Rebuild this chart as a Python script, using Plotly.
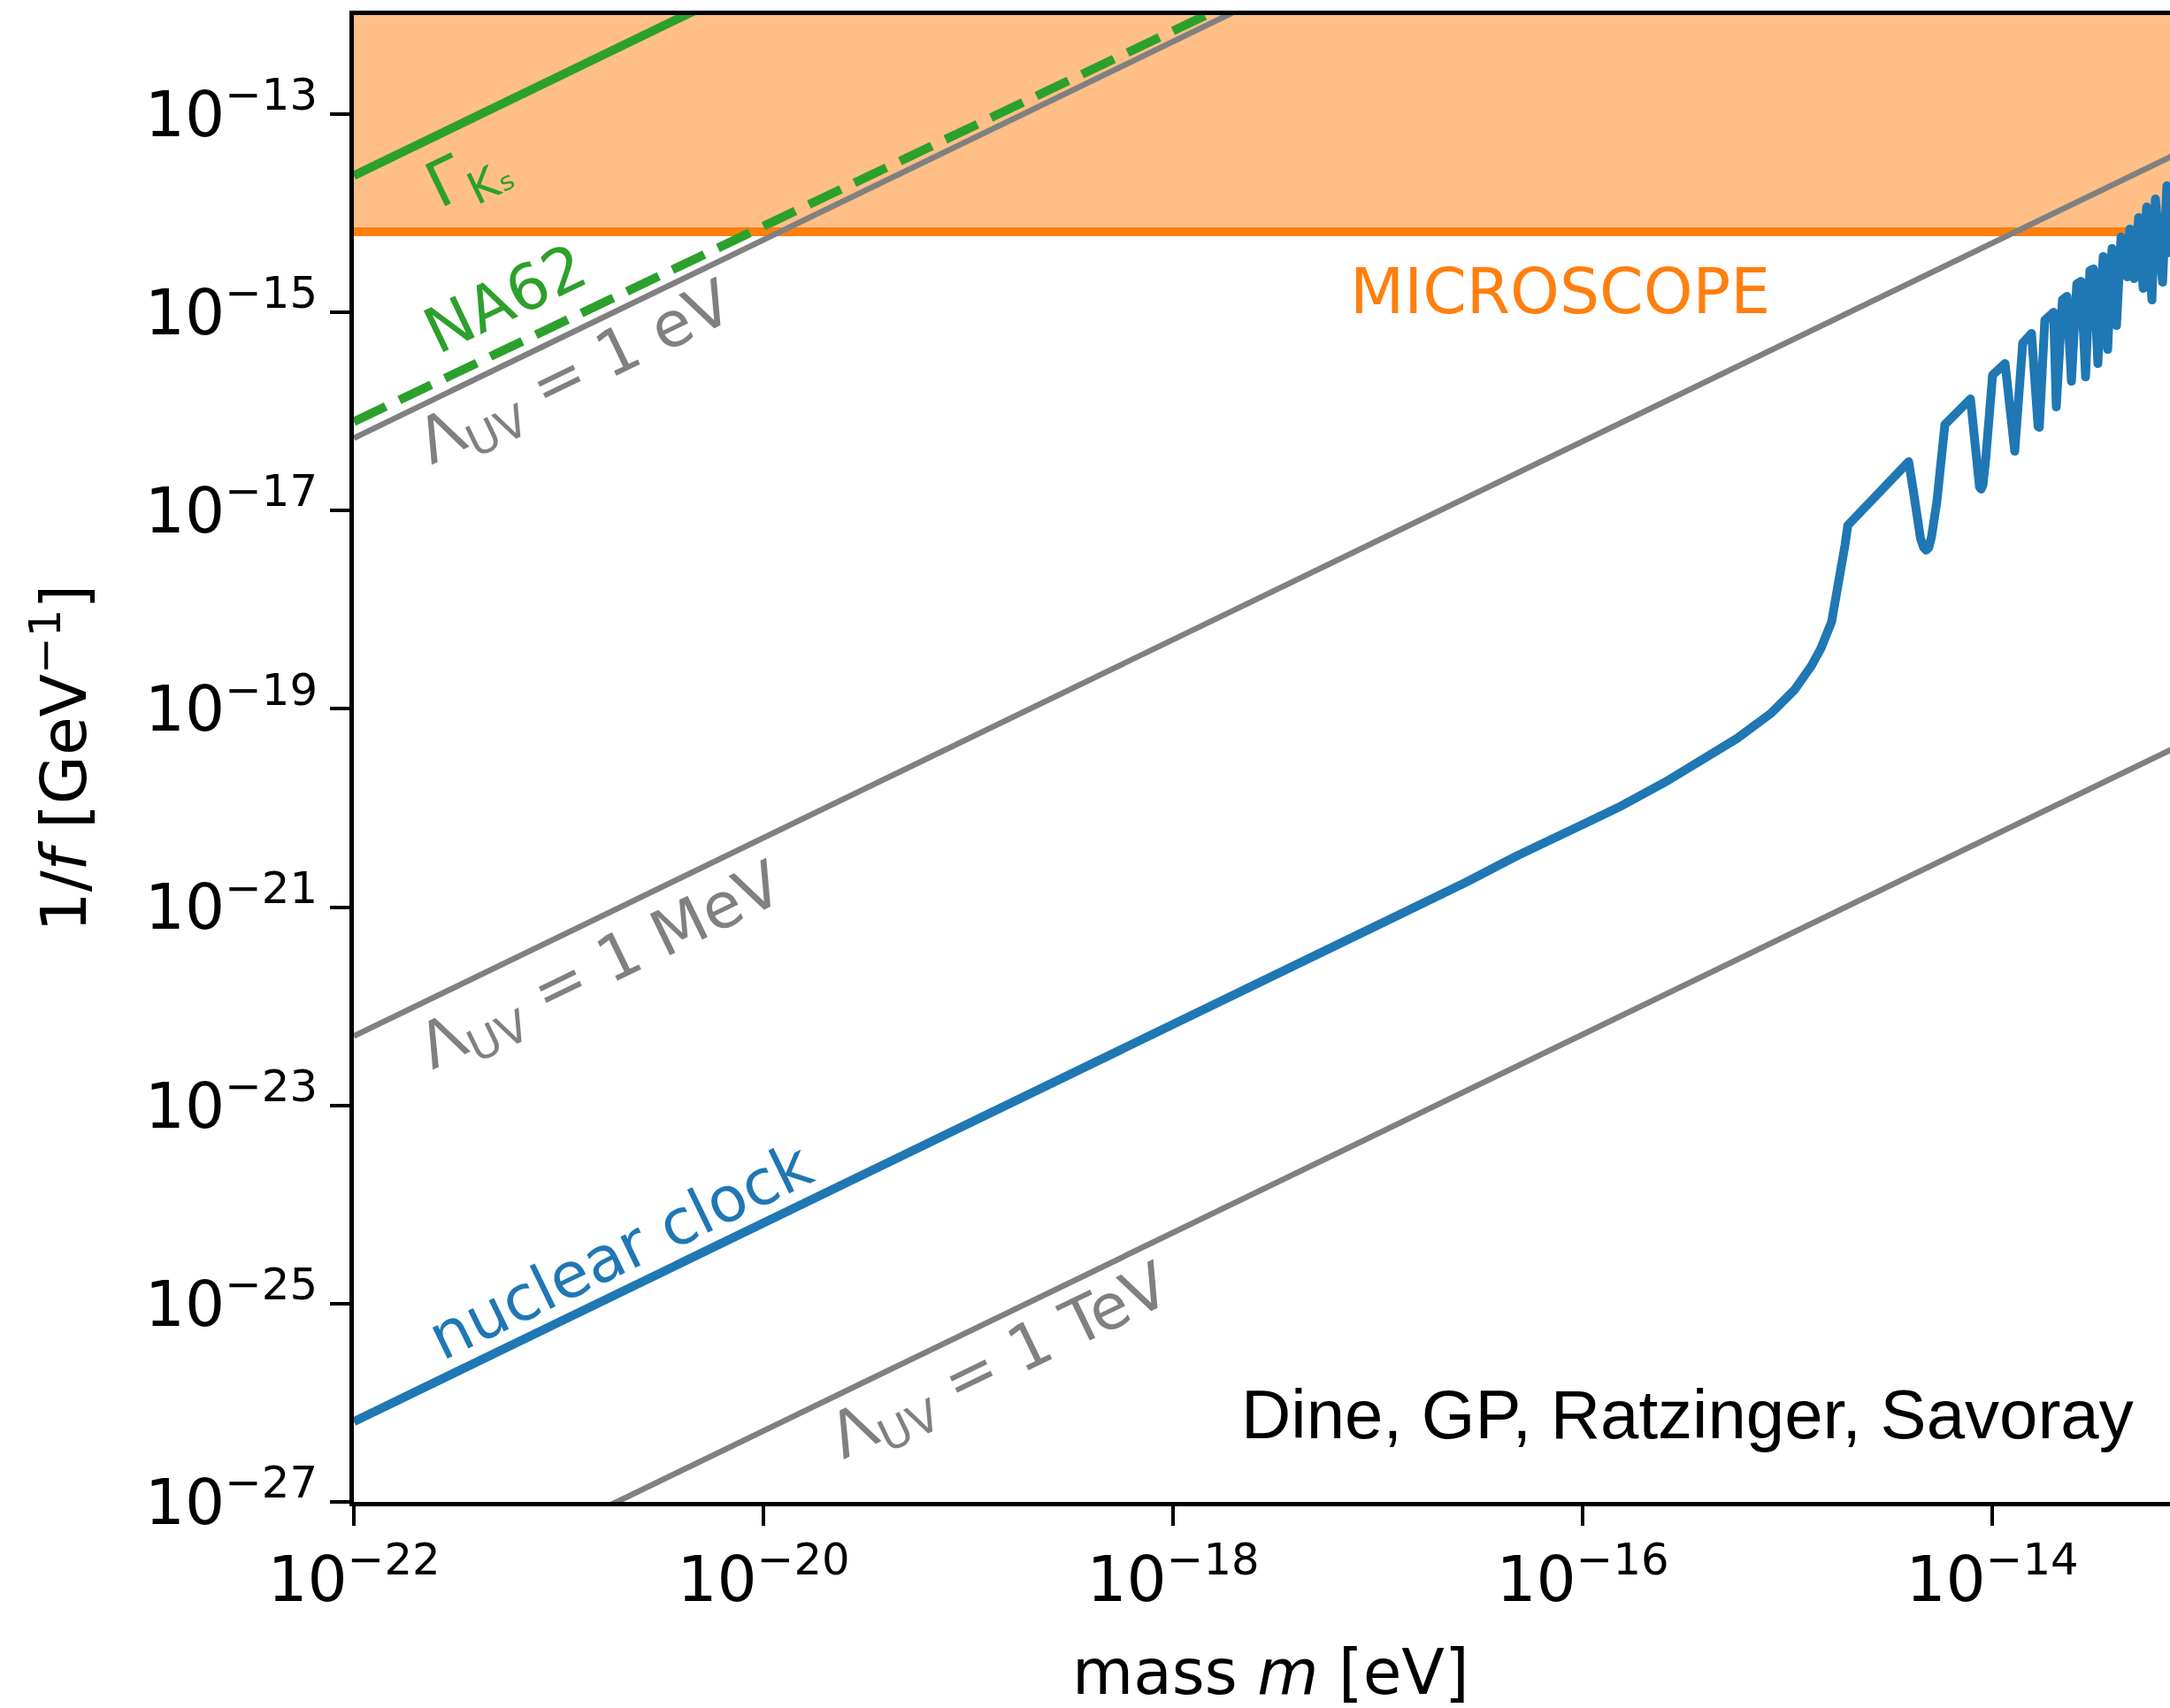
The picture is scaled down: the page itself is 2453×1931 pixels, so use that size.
import numpy as np
import plotly.graph_objects as go

# ---------------- data ----------------
x_tick_exp = [-22, -20, -18, -16, -14]
y_tick_exp = [-27, -25, -23, -21, -19, -17, -15, -13]

mass_ends = [1e-22, 1e-12]           # span of the straight reference lines
uv_1eV = [5.4e-17, 5.4e-7]          # Lambda_UV = 1 eV
uv_1MeV = [5.0e-23, 5.0e-13]        # Lambda_UV = 1 MeV
uv_1TeV = [5.2e-29, 5.2e-19]        # Lambda_UV = 1 TeV

gamma_ks_mass = [1e-22, 1e-19]
gamma_ks = [2.4e-14, 2.4e-11]

na62_mass = [1e-22, 1e-17]
na62 = [7.9e-17, 6.7e-12]

microscope_limit = 6.5e-15
microscope_top = 1e-11

clock_log_m = [
    -22.0, -17.5, -16.82, -16.572, -16.322, -16.076, -15.825, -15.579,
    -15.415, -15.246, -15.082, -14.965, -14.883, -14.836, -14.784, -14.754,
    -14.732, -14.719, -14.705,
    -14.408, -14.385, -14.365, -14.350, -14.335, -14.322, -14.309, -14.296,
    -14.270, -14.231, -14.106, -14.071, -14.062, -14.054, -14.045, -14.032,
    -13.998, -13.937, -13.898, -13.890, -13.851, -13.808, -13.776, -13.770,
    -13.743, -13.700, -13.687, -13.657, -13.635, -13.613, -13.587, -13.566,
    -13.544, -13.523, -13.505, -13.484, -13.458, -13.436, -13.415, -13.393,
    -13.371, -13.341, -13.328, -13.307, -13.285, -13.263, -13.246, -13.220,
    -13.203, -13.168, -13.147, -13.125,
]
clock_log_inv_f = [
    -26.19, -21.69, -21.01, -20.752, -20.484, -20.252, -19.994, -19.717,
    -19.521, -19.298, -19.048, -18.807, -18.566, -18.388, -18.12, -17.799,
    -17.496, -17.35, -17.148,
    -16.506, -16.80, -17.10, -17.28, -17.37, -17.398, -17.37, -17.26,
    -16.907, -16.131, -15.872, -16.66, -16.76, -16.782, -16.74, -16.488,
    -15.632, -15.516, -16.38, -16.40, -15.310, -15.212, -16.15, -16.16,
    -15.078, -14.998, -15.953, -14.873, -14.838, -15.694, -14.713, -14.686,
    -15.649, -14.579, -14.561, -15.516, -14.436, -15.373, -14.356, -15.132,
    -14.240, -14.641, -14.160, -14.659, -14.044, -14.757, -13.937, -14.873,
    -13.856, -14.695, -13.723, -14.44,
]

# label texts and their positions (log10 m, log10 1/f)
label_text = [
    "Λ<sub>UV</sub> = 1 eV", "NA62", "Γ<sub>Kₛ</sub>", "MICROSCOPE",
    "Λ<sub>UV</sub> = 1 MeV", "nuclear clock", "Λ<sub>UV</sub> = 1 TeV",
]
label_logm = [-20.91, -21.26, -21.44, -16.11, -20.79, -20.70, -18.84]
label_logy = [-15.64, -14.86, -13.62, -14.79, -21.62, -24.47, -25.61]
label_color = ["#808080", "#2ca02c", "#2ca02c", "#ff7f0e", "#808080", "#1f77b4", "#808080"]
label_angle = [-25.8, -25.5, -25.8, 0, -25.8, -25.8, -25.8]

author_text = "Dine, GP, Ratzinger, Savoray"
author_pos = (-15.49, -26.12)

# ---------------- figure ----------------
W, H = 2453, 1931
ML, MT, MB, MR = 400, 17, 233, 0
FONT = "DejaVu Sans"
FS = 71

fig = go.Figure()

# MICROSCOPE excluded region
fig.add_trace(go.Scatter(
    x=[mass_ends[0], mass_ends[1], mass_ends[1], mass_ends[0], mass_ends[0]],
    y=[microscope_limit, microscope_limit, microscope_top, microscope_top, microscope_limit],
    fill="toself", fillcolor="#ffbf86", mode="lines", line=dict(width=0),
    hoverinfo="skip", showlegend=False))
fig.add_trace(go.Scatter(
    x=mass_ends, y=[microscope_limit, microscope_limit], mode="lines",
    line=dict(color="#ff7f0e", width=10), showlegend=False))

# Lambda_UV lines
for yy in (uv_1eV, uv_1MeV, uv_1TeV):
    fig.add_trace(go.Scatter(x=mass_ends, y=yy, mode="lines",
                             line=dict(color="#808080", width=6.5), showlegend=False))

# Gamma_Ks and NA62
fig.add_trace(go.Scatter(x=gamma_ks_mass, y=gamma_ks, mode="lines",
                         line=dict(color="#2ca02c", width=10), showlegend=False))
fig.add_trace(go.Scatter(x=na62_mass, y=na62, mode="lines",
                         line=dict(color="#2ca02c", width=10, dash="40px,17px"), showlegend=False))

# nuclear clock
fig.add_trace(go.Scatter(
    x=np.power(10.0, clock_log_m), y=np.power(10.0, clock_log_inv_f), mode="lines",
    line=dict(color="#1f77b4", width=10), showlegend=False))

plot_w = W - ML - MR
x_range = [-22, -22 + plot_w / 231.5]
y_range = [-27, -12]

axis_common = dict(
    type="log", showgrid=False, zeroline=False, showline=True, linecolor="black",
    linewidth=4.5, ticks="outside", ticklen=22, tickwidth=4, tickcolor="black",
    tickfont=dict(family=FONT, size=FS, color="black"),
)
fig.update_xaxes(range=x_range, tickvals=[10.0 ** e for e in x_tick_exp],
                 ticktext=[f"10<sup>−{-e}</sup>" for e in x_tick_exp],
                 mirror=True, **axis_common)
fig.update_yaxes(range=y_range, tickvals=[10.0 ** e for e in y_tick_exp],
                 ticktext=[f"10<sup>−{-e}</sup>" for e in y_tick_exp],
                 mirror=False, **axis_common)

annotations = []
for t, lx, ly, c, a in zip(label_text, label_logm, label_logy, label_color, label_angle):
    annotations.append(dict(x=lx, y=ly, xref="x", yref="y", text=t, showarrow=False,
                            textangle=a, xanchor="center", yanchor="middle",
                            font=dict(family=FONT, size=FS, color=c)))
annotations.append(dict(x=author_pos[0], y=author_pos[1], xref="x", yref="y",
                        text=author_text, showarrow=False, xanchor="center",
                        yanchor="middle",
                        font=dict(family="Liberation Sans", size=78, color="black")))
# axis titles
plot_h = H - MT - MB
annotations.append(dict(x=(1436 - ML) / plot_w, y=(H - MB - 1890) / plot_h,
                        xref="paper", yref="paper", text="mass <i>m</i> [eV]",
                        showarrow=False, xanchor="center", yanchor="middle",
                        font=dict(family=FONT, size=FS, color="black")))
annotations.append(dict(x=(68 - ML) / plot_w, y=0.5, xref="paper", yref="paper",
                        text="1/<i>f</i> [GeV<sup>−1</sup>]", textangle=-90,
                        showarrow=False, xanchor="center", yanchor="middle",
                        font=dict(family=FONT, size=FS, color="black")))

fig.update_layout(
    width=W, height=H, autosize=False,
    margin=dict(l=ML, r=MR, t=MT, b=MB, pad=0),
    paper_bgcolor="white", plot_bgcolor="white",
    showlegend=False, annotations=annotations,
)

post = (
    "document.body.style.margin='0';"
    "document.querySelectorAll('path.js-line').forEach(function(p){"
    "p.style.strokeLinejoin='round';});"
)
fig.write_html("out.html", config={"displayModeBar": False}, post_script=post)
